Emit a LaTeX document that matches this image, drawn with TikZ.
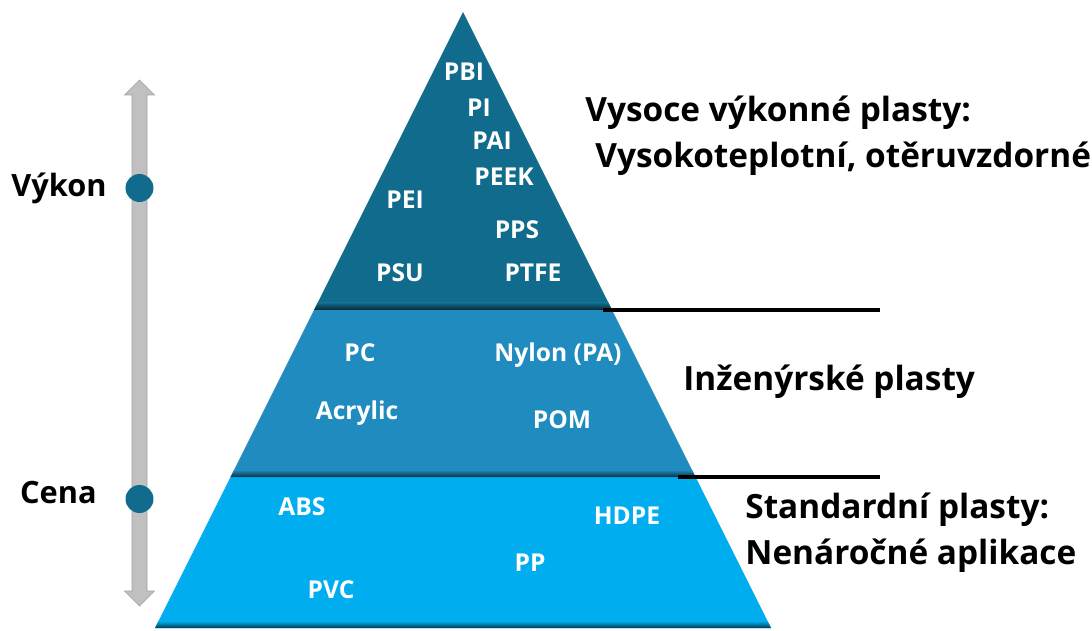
\documentclass[tikz,border=0pt]{standalone}
\usepackage{fontspec}
\setmainfont{Open Sans}
\usepackage{tikz}
\usetikzlibrary{math}
\definecolor{TopTier}{RGB}{16,107,140}
\definecolor{MidTier}{RGB}{31,139,191}
\definecolor{LowTier}{RGB}{0,174,239}
\definecolor{ArrowGray}{RGB}{192,192,192}
\tikzset{
	plastic/.style={text=white,inner sep=0pt,font=\fontsize{14}{16}\selectfont\bfseries},
	tierlabel/.style={anchor=base west,inner sep=0pt,font=\fontsize{19}{22}\selectfont\bfseries},
	scalelabel/.style={anchor=base east,inner sep=0pt,font=\fontsize{17.5}{21}\selectfont\bfseries},
	scaledot/.style={circle,fill=TopTier,minimum size=0.56cm,inner sep=0pt},
	divider/.style={line width=2.2pt,black},
}
\begin{document}
\begin{tikzpicture}[x=0.02cm,y=-0.02cm]
	\useasboundingbox (0,0) rectangle (1092,631);
	\tikzmath{\Cx = 463; \Apex = 12; \CutA = 310; \CutB = 477; \Base = 628;}
	\coordinate (apex) at (\Cx,\Apex);
	\coordinate (al) at ({\Cx-0.5*(\CutA-\Apex)},\CutA);
	\coordinate (ar) at ({\Cx+0.5*(\CutA-\Apex)},\CutA);
	\coordinate (bl) at ({\Cx-0.5*(\CutB-\Apex)},\CutB);
	\coordinate (br) at ({\Cx+0.5*(\CutB-\Apex)},\CutB);
	\coordinate (cl) at ({\Cx-0.5*(\Base-\Apex)},\Base);
	\coordinate (cr) at ({\Cx+0.5*(\Base-\Apex)},\Base);
	
	% tiers
	\fill[TopTier] (apex) -- (ar) -- (al) -- cycle;
	\fill[MidTier] (al) -- (ar) -- (br) -- (bl) -- cycle;
	\fill[LowTier] (bl) -- (br) -- (cr) -- (cl) -- cycle;
	\begin{scope}
		\clip (apex) -- (ar) -- (al) -- cycle;
		\shade[top color=TopTier,bottom color=TopTier!35!black] (300,\CutA-7) rectangle (630,\CutA);
	\end{scope}
	\begin{scope}
		\clip (al) -- (ar) -- (br) -- (bl) -- cycle;
		\shade[top color=MidTier,bottom color=MidTier!35!black] (220,\CutB-7) rectangle (710,\CutB);
	\end{scope}
	\begin{scope}
		\clip (bl) -- (br) -- (cr) -- (cl) -- cycle;
		\shade[top color=LowTier,bottom color=LowTier!35!black] (140,\Base-7) rectangle (790,\Base);
	\end{scope}
	
	\coordinate (endA) at (880,\CutA);
	\coordinate (endB) at (880,\CutB);
	\draw[divider] ([xshift=-5]ar) -- (endA);
	\draw[divider] ([xshift=-10]br) -- (endB);
	
	% scale arrow
	\fill[ArrowGray,draw=ArrowGray!85!black,line width=0.3pt] (132,95) -- (124.5,95) -- (139.5,80) -- (154.5,95) -- (147,95)
		-- (147,591) -- (154.5,591) -- (139.5,606) -- (124.5,591) -- (132,591) -- cycle;
	\node[scaledot] (vykondot) at (139.5,188) {};
	\node[scaledot] (cenadot) at (139.5,499) {};
	\node[scalelabel] (vykon) at (107,197) {Výkon};
	\node[scalelabel] (cena) at (97,503) {Cena};
	
	% plastics
	\node[plastic] (pbi) at (464,72) {PBI};
	\node[plastic] (pi) at (479,108) {PI};
	\node[plastic] (pai) at (492,141) {PAI};
	\node[plastic] (peek) at (504,177) {PEEK};
	\node[plastic] (pei) at (405,200) {PEI};
	\node[plastic] (pps) at (517,230) {PPS};
	\node[plastic] (psu) at (400,273) {PSU};
	\node[plastic] (ptfe) at (533,273) {PTFE};
	\node[plastic] (pc) at (360,353) {PC};
	\node[plastic] (nylon) at (558,355) {Nylon (PA)};
	\node[plastic] (acrylic) at (357,413) {Acrylic};
	\node[plastic] (pom) at (562,420) {POM};
	\node[plastic] (abs) at (302,507) {ABS};
	\node[plastic] (hdpe) at (627,516) {HDPE};
	\node[plastic] (pp) at (530,563) {PP};
	\node[plastic] (pvc) at (331,590) {PVC};
	
	% tier labels
	\node[tierlabel] (highA) at (585,122) {Vysoce výkonné plasty:};
	\node[tierlabel] (highB) at (595,168) {Vysokoteplotní, otěruvzdorné};
	\node[tierlabel] (eng) at (683,391) {Inženýrské plasty};
	\node[tierlabel] (stdA) at (745,518) {Standardní plasty:};
	\node[tierlabel] (stdB) at (745,564) {Nenáročné aplikace};
\end{tikzpicture}
\end{document}
